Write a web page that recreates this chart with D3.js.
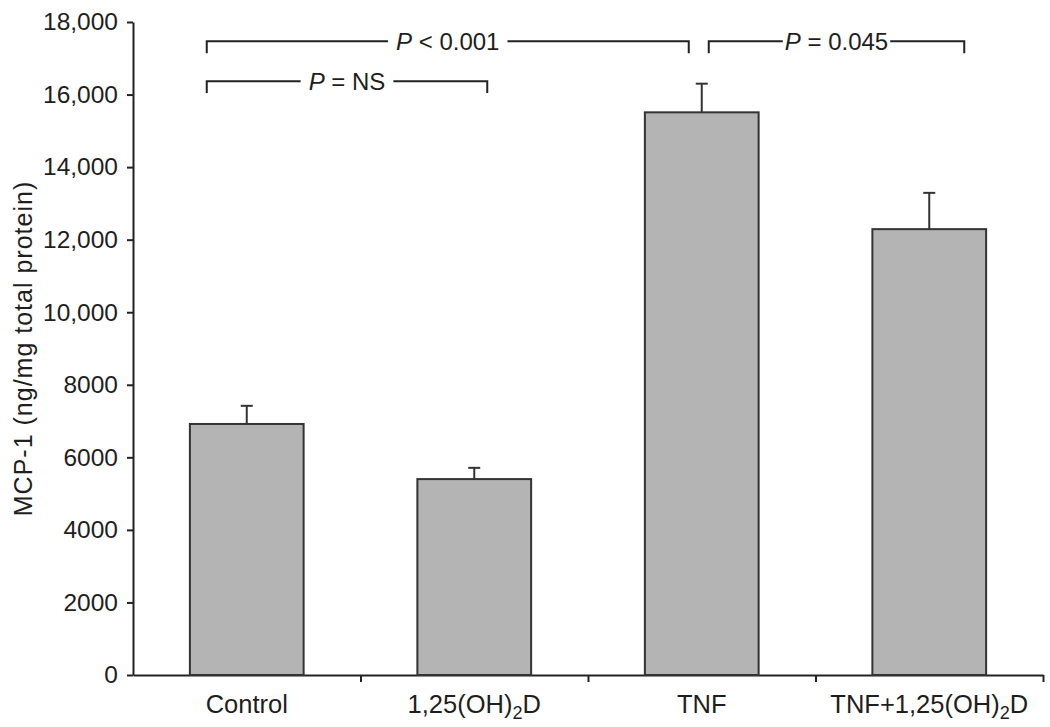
<!DOCTYPE html>
<html>
<head>
<meta charset="utf-8">
<script src="https://cdn.jsdelivr.net/npm/d3@7"></script>
<style>
  body { margin: 0; background: #fff; }
  svg { display: block; font-family: "Liberation Sans", Arial, Helvetica, sans-serif; }
  .axis path, .axis line { stroke: #222; stroke-width: 2px; }
  .axis text { fill: #1e1e1e; font-size: 24.5px; }
</style>
</head>
<body>
<div id="chart"></div>
<script>
// data
const categories = ["Control", "1,25(OH)2D", "TNF", "TNF+1,25(OH)2D"];
const means = [6920, 5400, 15510, 12290];
const errors = [500, 310, 790, 1000];
const yTicks = [0, 2000, 4000, 6000, 8000, 10000, 12000, 14000, 16000, 18000];

// significance brackets: from/to category index, px offset from centre, level in data units
const brackets = [
  { from: 0, to: 2, dx0: -40, dx1: -13, level: 17470, label: "< 0.001", gap: 8 },
  { from: 2, to: 3, dx0: 7, dx1: 35, level: 17470, label: "= 0.045", gap: 2 },
  { from: 0, to: 1, dx0: -40, dx1: 13, level: 16370, label: "= NS", gap: 8 }
];
const legDrop = 330;

const width = 1050, height = 727;
const margin = { top: 22, right: 7, bottom: 52, left: 133 };

const svg = d3.select("#chart").append("svg")
  .attr("width", width)
  .attr("height", height);

const x = d3.scaleBand()
  .domain(categories)
  .range([margin.left, width - margin.right])
  .paddingInner(0.5)
  .paddingOuter(0.25);

const y = d3.scaleLinear()
  .domain([0, 18000])
  .range([height - margin.bottom, margin.top]);

const fmt = d => d >= 10000 ? d3.format(",")(d) : String(d);

// y axis
svg.append("g")
  .attr("class", "axis")
  .attr("transform", `translate(${margin.left},0)`)
  .call(d3.axisLeft(y).tickValues(yTicks).tickFormat(fmt).tickSize(6).tickSizeOuter(0).tickPadding(9));

// x axis: line + ticks at category boundaries
const xb = d3.scaleLinear().domain([0, categories.length]).range(x.range());
svg.append("g")
  .attr("class", "axis")
  .attr("transform", `translate(0,${y(0)})`)
  .call(d3.axisBottom(xb).tickValues(d3.range(1, categories.length + 1)).tickFormat("").tickSize(7).tickSizeOuter(0));

// category labels (with subscript 2)
const labels = svg.append("g")
  .selectAll("text")
  .data(categories)
  .join("text")
  .attr("x", d => x(d) + x.bandwidth() / 2)
  .attr("y", height - 14)
  .attr("text-anchor", "middle")
  .attr("fill", "#1e1e1e")
  .style("font-size", "25.5px");

labels.each(function (d) {
  const t = d3.select(this);
  const m = d.match(/^(.*\))2(D)$/);
  if (m) {
    t.append("tspan").text(m[1]);
    t.append("tspan").text("2").attr("dy", 6).style("font-size", "18px");
    t.append("tspan").text(m[2]).attr("dy", -6);
  } else {
    t.text(d);
  }
});

// y title
svg.append("text")
  .attr("transform", `translate(32,${(y(0) + y(18000)) / 2}) rotate(-90)`)
  .attr("text-anchor", "middle")
  .attr("fill", "#1e1e1e")
  .style("font-size", "25px")
  .style("letter-spacing", "1px")
  .text("MCP-1 (ng/mg total protein)");

const rows = categories.map((c, i) => ({ c, m: means[i], e: errors[i] }));

// error bars (behind bars)
const eb = svg.append("g").attr("stroke", "#333").attr("stroke-width", 2);
eb.selectAll(".stem").data(rows).join("line")
  .attr("x1", d => x(d.c) + x.bandwidth() / 2)
  .attr("x2", d => x(d.c) + x.bandwidth() / 2)
  .attr("y1", d => y(d.m))
  .attr("y2", d => y(d.m + d.e));
eb.selectAll(".cap").data(rows).join("line")
  .attr("x1", d => x(d.c) + x.bandwidth() / 2 - 6)
  .attr("x2", d => x(d.c) + x.bandwidth() / 2 + 6)
  .attr("y1", d => y(d.m + d.e))
  .attr("y2", d => y(d.m + d.e));

// bars
svg.append("g")
  .selectAll("rect")
  .data(rows)
  .join("rect")
  .attr("x", d => x(d.c))
  .attr("y", d => y(d.m))
  .attr("width", x.bandwidth())
  .attr("height", d => y(0) - y(d.m))
  .attr("fill", "#b4b4b4")
  .attr("stroke", "#333")
  .attr("stroke-width", 2);

// brackets
const bg = svg.append("g");
brackets.forEach(b => {
  const x0 = x(categories[b.from]) + x.bandwidth() / 2 + b.dx0;
  const x1 = x(categories[b.to]) + x.bandwidth() / 2 + b.dx1;
  const yl = y(b.level);
  const yd = y(b.level - legDrop);
  const t = bg.append("text")
    .attr("x", (x0 + x1) / 2)
    .attr("y", yl + 8.5)
    .attr("text-anchor", "middle")
    .attr("fill", "#1e1e1e")
    .style("font-size", "24px");
  t.append("tspan").text("P").style("font-style", "italic");
  t.append("tspan").text(" " + b.label);
  const bb = t.node().getBBox();
  const path = `M${x0},${yd}V${yl}H${bb.x - b.gap}M${bb.x + bb.width + b.gap},${yl}H${x1}V${yd}`;
  bg.append("path")
    .attr("d", path)
    .attr("fill", "none")
    .attr("stroke", "#222")
    .attr("stroke-width", 2);
});
</script>
</body>
</html>
